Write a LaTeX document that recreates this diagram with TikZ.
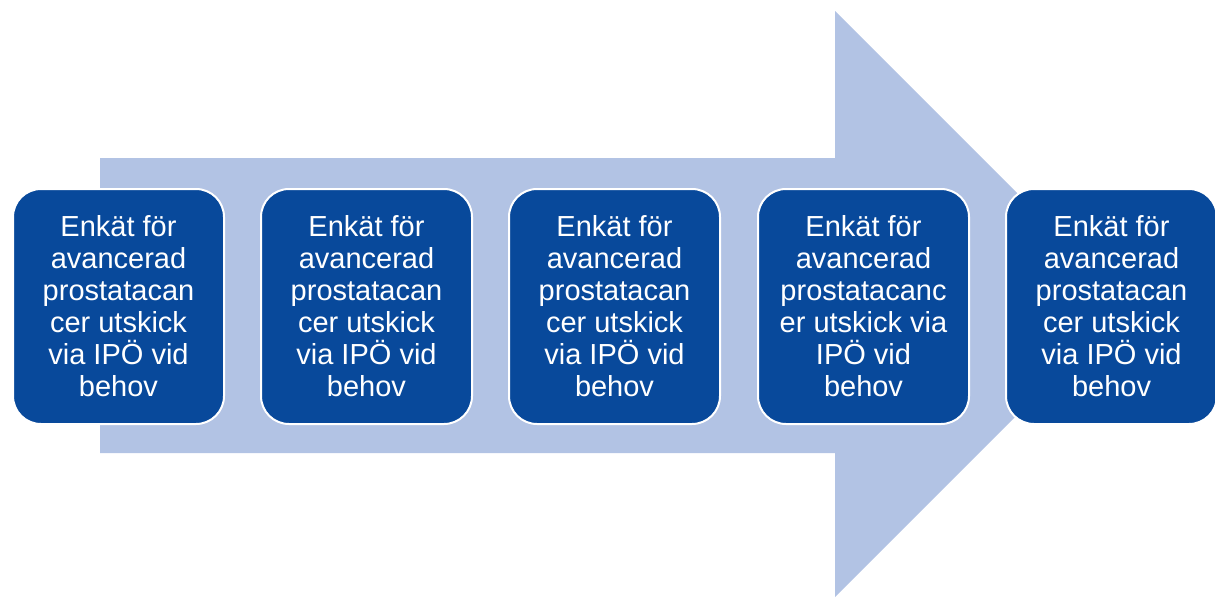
\documentclass[tikz,border=0pt]{standalone}
\usepackage{fontspec}
\setmainfont{Liberation Sans}
\definecolor{boxblue}{HTML}{08499B}
\definecolor{arrowblue}{HTML}{B2C3E4}
\begin{document}
\begin{tikzpicture}[x=1pt,y=-1pt,
  stepbox/.style={draw=white, line width=2pt, fill=boxblue, rounded corners=28pt,
    minimum width=211pt, minimum height=235pt, text=white, align=center,
    font=\fontsize{29}{32}\selectfont, inner sep=0pt, anchor=north west}]
\useasboundingbox (0,0) rectangle (1215,597);
\fill[arrowblue] (100,158) -- (835,158) -- (835,11) -- (1128,304) -- (835,597) -- (835,453) -- (100,453) -- cycle;
\node[stepbox] (b1) at (12,188) {Enkät för\\avancerad\\prostatacan\\cer utskick\\via IPÖ vid\\behov};
\node[stepbox] (b2) at (260,188) {Enkät för\\avancerad\\prostatacan\\cer utskick\\via IPÖ vid\\behov};
\node[stepbox] (b3) at (508,188) {Enkät för\\avancerad\\prostatacan\\cer utskick\\via IPÖ vid\\behov};
\node[stepbox] (b4) at (757,188) {Enkät för\\avancerad\\prostatacanc\\er utskick via\\IPÖ vid\\behov};
\node[stepbox] (b5) at (1005,188) {Enkät för\\avancerad\\prostatacan\\cer utskick\\via IPÖ vid\\behov};
\end{tikzpicture}
\end{document}
